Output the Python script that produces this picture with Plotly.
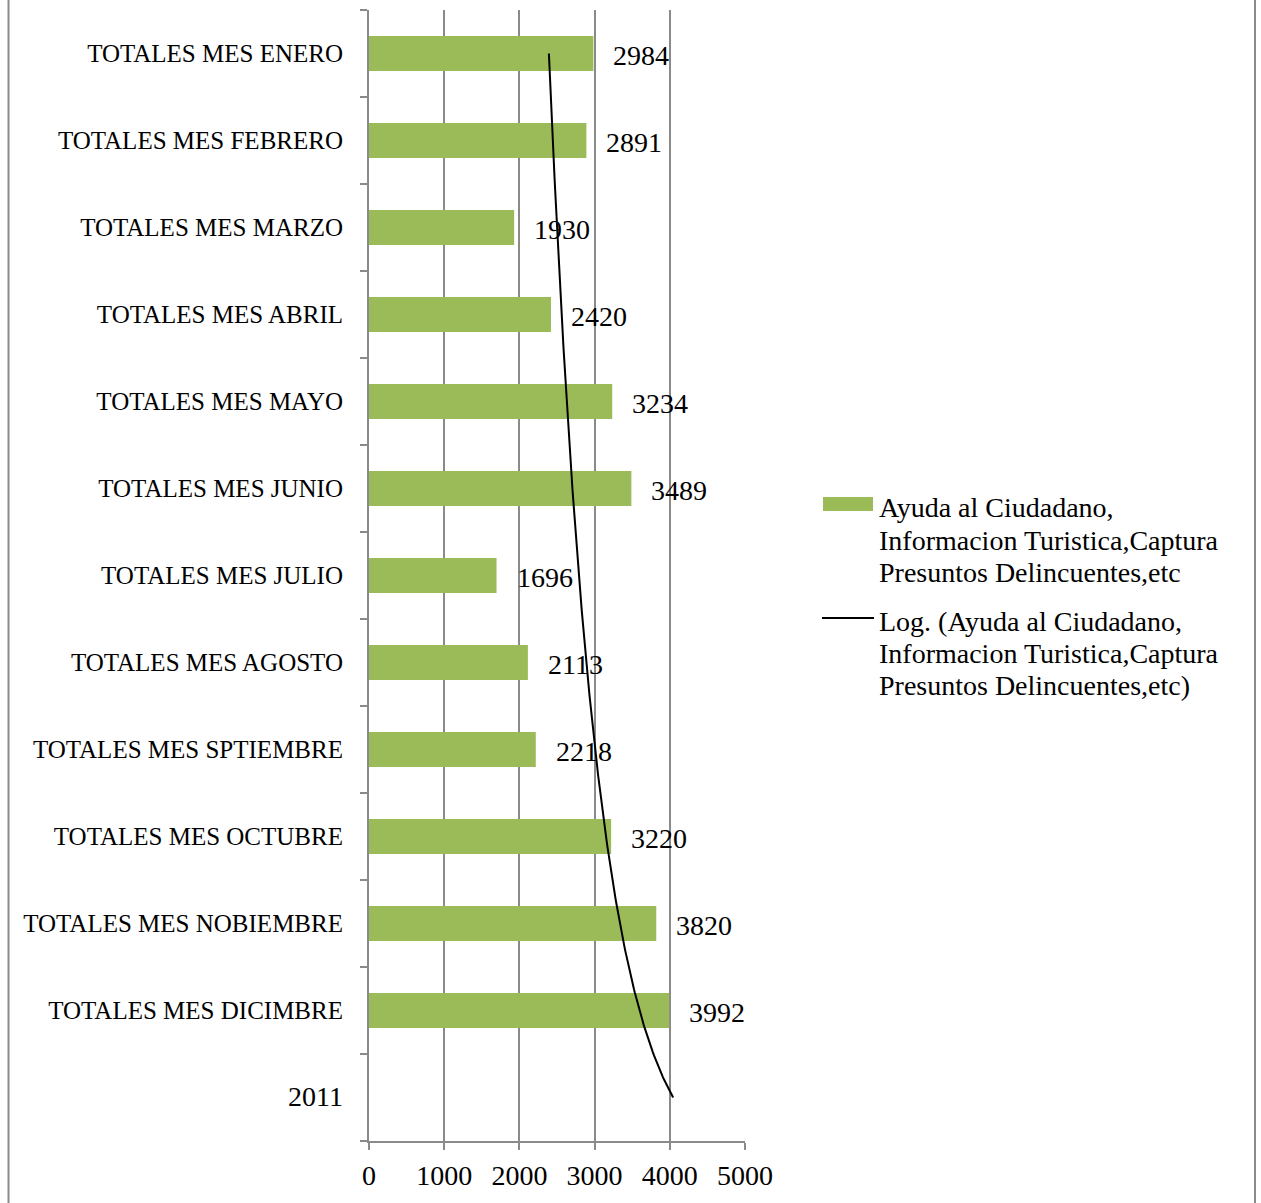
import numpy as np
import plotly.graph_objects as go

# Categories listed top to bottom as shown
categories = [
    "TOTALES MES ENERO", "TOTALES MES FEBRERO", "TOTALES MES MARZO",
    "TOTALES MES ABRIL", "TOTALES MES MAYO", "TOTALES MES JUNIO",
    "TOTALES MES JULIO", "TOTALES MES AGOSTO", "TOTALES MES SPTIEMBRE",
    "TOTALES MES OCTUBRE", "TOTALES MES NOBIEMBRE", "TOTALES MES DICIMBRE",
    "2011",
]
values = [2984, 2891, 1930, 2420, 3234, 3489, 1696, 2113, 2218, 3220, 3820, 3992, None]
x_ticks = [0, 1000, 2000, 3000, 4000, 5000]
series_lines = ["Ayuda al Ciudadano,", "Informacion Turistica,Captura", "Presuntos Delincuentes,etc"]
trend_lines = ["Log. (Ayuda al Ciudadano,", "Informacion Turistica,Captura", "Presuntos Delincuentes,etc)"]

# Excel-style category order: first category at bottom
cats_bottom_up = categories[::-1]
vals_bottom_up = values[::-1]
idx = np.arange(1, len(cats_bottom_up) + 1)

# Logarithmic trendline fitted on the data (Excel: y = a ln(x) + b)
mask = np.array([v is not None for v in vals_bottom_up])
yv = np.array([v for v in vals_bottom_up if v is not None], dtype=float)
a, b = np.polyfit(np.log(idx[mask]), yv, 1)
xs = np.linspace(1, len(cats_bottom_up), 300)
trend = a * np.log(xs) + b

GREEN = "#9BBB59"
GRAY = "#8a8a8a"
FONT = "Liberation Serif"

tick_text = [('<span style="font-size:28px">%s</span>' % c) if c.isdigit() else c
             for c in cats_bottom_up]

fig = go.Figure()
fig.add_trace(go.Bar(
    y=cats_bottom_up, x=vals_bottom_up, orientation="h",
    marker=dict(color=GREEN, line=dict(width=0)),
    name=" ".join(series_lines), showlegend=False,
))
fig.add_trace(go.Scatter(
    x=trend, y=xs, mode="lines", yaxis="y2",
    line=dict(color="black", width=2),
    name=" ".join(trend_lines), showlegend=False,
))

for c, v in zip(cats_bottom_up, vals_bottom_up):
    if v is None:
        continue
    fig.add_annotation(x=v, y=c, xref="x", yref="y", text=str(v),
                       showarrow=False, xanchor="left", xshift=18, yshift=-2,
                       font=dict(family=FONT, size=28, color="black"))

L, R, T, B = 369, 745, 10, 1141
W, H = 1261, 1203
pw, ph = R - L, B - T

def px_x(p):
    return (p - L) / pw

def px_y(p):
    return (B - p) / ph

# outer frame lines (left and right)
for xp in (8.5, 1255):
    fig.add_shape(type="line", xref="paper", yref="paper",
                  x0=px_x(xp), x1=px_x(xp), y0=px_y(0), y1=px_y(H),
                  line=dict(color=GRAY, width=2))

# legend drawn by hand to match the original layout
fig.add_shape(type="rect", xref="paper", yref="paper",
              x0=px_x(823), x1=px_x(873), y0=px_y(511), y1=px_y(497),
              fillcolor=GREEN, line=dict(width=0))
fig.add_shape(type="line", xref="paper", yref="paper",
              x0=px_x(822), x1=px_x(874), y0=px_y(618), y1=px_y(618),
              line=dict(color="black", width=2))
for lines, y0 in ((series_lines, 508), (trend_lines, 621)):
    for k, t in enumerate(lines):
        fig.add_annotation(xref="paper", yref="paper", x=px_x(877), y=px_y(y0 + 32 * k),
                           text=t, showarrow=False, xanchor="left", yanchor="middle",
                           font=dict(family=FONT, size=28, color="black"))

fig.update_layout(
    width=W, height=H,
    margin=dict(l=L, r=W - R, t=T, b=H - B),
    plot_bgcolor="white", paper_bgcolor="white",
    font=dict(family=FONT, size=25, color="black"),
    bargap=0.6,
    xaxis=dict(range=[0, 5000], tickvals=x_ticks, showgrid=True, gridcolor=GRAY,
               gridwidth=2, zeroline=False, showline=True, linecolor=GRAY,
               linewidth=2, ticks="outside", ticklen=7, tickwidth=2, tickcolor=GRAY,
               tickfont=dict(family=FONT, size=28), ticklabelstandoff=1,
               automargin=False),
    yaxis=dict(type="category", categoryorder="array", categoryarray=cats_bottom_up,
               tickmode="array", tickvals=cats_bottom_up, ticktext=tick_text,
               range=[-0.5, len(cats_bottom_up) - 0.5], showgrid=False,
               showline=True, linecolor=GRAY, linewidth=2, ticks="outside",
               tickson="boundaries", ticklen=7, tickwidth=2, tickcolor=GRAY,
               tickfont=dict(family=FONT, size=25), ticklabelstandoff=19,
               automargin=False),
    yaxis2=dict(overlaying="y", range=[0.5, len(cats_bottom_up) + 0.5],
                visible=False),
    showlegend=False,
)

fig.write_html("out.html")
